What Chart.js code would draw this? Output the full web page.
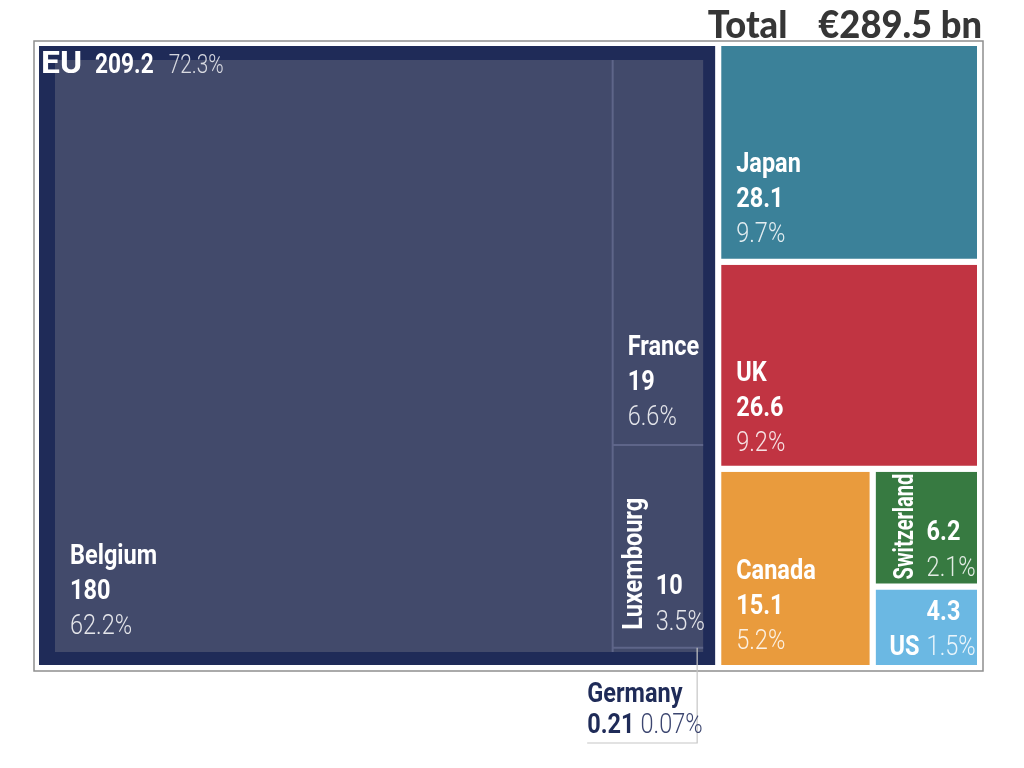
<!DOCTYPE html>
<html>
<head>
<meta charset="utf-8">
<script src="https://cdn.jsdelivr.net/npm/chart.js@4.4.1/dist/chart.umd.min.js"></script>
<style>
  html, body { margin: 0; background: #fff; }
  canvas { display: block; }
</style>
</head>
<body>
<canvas id="tradeMap" width="1024" height="768"></canvas>
<script>
(() => {
  'use strict'

  // € bn
  const total = 289.5
  const partners = ['EU', 'Japan', 'UK', 'Canada', 'Switzerland', 'US']
  const partnerValues = [209.2, 28.1, 26.6, 15.1, 6.2, 4.3]
  const euMembers = ['Belgium', 'France', 'Luxembourg', 'Germany']
  const euValues = [180, 19, 10, 0.21]

  const colours = {
    EU: '#1f2b58',
    Japan: '#3b8199',
    UK: '#c13442',
    Canada: '#e99b3d',
    Switzerland: '#377a41',
    US: '#6bb8e3',
    member: '#424a6b',
    divider: '#5e6589'
  }

  // plot units are close to pixels so the squarified layout keeps the right aspect
  const W = 944
  const H = 625
  const euPad = { left: 19, top: 17, right: 15, bottom: 16 }

  const sum = a => a.reduce((s, v) => s + v, 0)

  function worst (row, side) {
    const s = sum(row)
    return Math.max(side * side * Math.max(...row) / (s * s), s * s / (side * side * Math.min(...row)))
  }

  // squarified treemap, values sorted high to low
  function squarify (values, rect) {
    const k = rect.w * rect.h / sum(values)
    const areas = values.map(v => v * k)
    const out = []
    const r = { ...rect }
    let i = 0
    while (i < areas.length) {
      const side = Math.min(r.w, r.h)
      const row = [areas[i]]
      let j = i + 1
      while (j < areas.length && worst(row.concat(areas[j]), side) <= worst(row, side)) {
        row.push(areas[j])
        j++
      }
      const s = sum(row)
      if (r.w >= r.h) {
        const cw = s / r.h
        let y = r.y
        row.forEach(a => { out.push({ x0: r.x, y0: y, x1: r.x + cw, y1: y + a / cw }); y += a / cw })
        r.x += cw; r.w -= cw
      } else {
        const rh = s / r.w
        let x = r.x
        row.forEach(a => { out.push({ x0: x, y0: r.y, x1: x + a / rh, y1: r.y + rh }); x += a / rh })
        r.y += rh; r.h -= rh
      }
      i = j
    }
    return out
  }

  const topRects = squarify(partnerValues, { x: 0, y: 0, w: W, h: H })
  const eu = topRects[0]
  const inner = {
    x: eu.x0 + euPad.left,
    y: eu.y0 + euPad.top,
    w: eu.x1 - eu.x0 - euPad.left - euPad.right,
    h: eu.y1 - eu.y0 - euPad.top - euPad.bottom
  }
  const euRects = squarify(euValues, inner)

  const outline = r => [
    { x: r.x0, y: r.y0 }, { x: r.x1, y: r.y0 }, { x: r.x1, y: r.y1 },
    { x: r.x0, y: r.y1 }, { x: r.x0, y: r.y0 }
  ]

  const tile = (rect, fill, stroke, width) => ({
    data: outline(rect),
    fill: 'shape',
    backgroundColor: fill,
    borderColor: stroke,
    borderWidth: width,
    borderCapStyle: 'square',
    pointRadius: 0,
    pointHoverRadius: 0,
    tension: 0
  })

  // first dataset is painted last, so EU members go on top of the EU block
  const datasets = [
    ...euRects.map(r => tile(r, colours.member, colours.member, 0)),
    ...topRects.map((r, i) => tile(r, colours[partners[i]], '#ffffff', 6))
  ]

  const FONT = 'Roboto, "DejaVu Sans", sans-serif'

  function txt (ctx, s, x, y, o = {}) {
    const sx = o.sx || 0.84
    ctx.save()
    ctx.font = `${o.weight || 700} ${o.size || 28}px ${o.family || FONT}`
    ctx.fillStyle = o.color || '#ffffff'
    ctx.textAlign = o.align || 'left'
    ctx.textBaseline = 'alphabetic'
    ctx.translate(x, y)
    if (o.rotate) ctx.rotate(-Math.PI / 2)
    let k = sx
    const w = ctx.measureText(s).width
    if (o.fit && w * k > o.fit) k = o.fit / w
    ctx.scale(k, 1)
    ctx.fillText(s, 0, 0)
    ctx.restore()
    return w * k
  }

  const pct = v => {
    const p = v / total * 100
    return (p < 0.1 ? p.toFixed(2) : p.toFixed(1)) + '%'
  }
  const soft = 'rgba(255,255,255,0.86)'

  // label placement per tile
  const labelStyle = {
    Belgium: { mode: 'stack', inset: 0, pad: 18 },
    France: { mode: 'stack', inset: 0, pad: 20 },
    Japan: { mode: 'stack', inset: 3, pad: 17 },
    UK: { mode: 'stack', inset: 3, pad: 15 },
    Canada: { mode: 'stack', inset: 3, pad: 16 },
    Luxembourg: { mode: 'side', inset: 0, name: 29, col: 43, pad: 18, nameBottom: 18 },
    Switzerland: { mode: 'side', inset: 3, name: 37, col: 51, pad: 7, nameBottom: 4 },
    US: { mode: 'us', inset: 3, col: 51, pad: 10 }
  }

  const labels = {
    id: 'labels',
    afterDatasetsDraw (chart) {
      const { ctx, chartArea: area } = chart
      const xs = chart.scales.x
      const ys = chart.scales.y
      const box = (r, inset) => ({
        l: xs.getPixelForValue(r.x0) + inset,
        r: xs.getPixelForValue(r.x1) - inset,
        t: ys.getPixelForValue(r.y0) + inset,
        b: ys.getPixelForValue(r.y1) - inset
      })

      // dividers between EU members (shared edges only)
      const near = (a, b) => Math.abs(a - b) < 0.01
      ctx.save()
      ctx.strokeStyle = colours.divider
      ctx.lineWidth = 2
      ctx.beginPath()
      euRects.forEach(r => {
        const b = box(r, 0)
        if (!near(r.x1, inner.x + inner.w)) { ctx.moveTo(b.r, b.t); ctx.lineTo(b.r, b.b) }
        if (!near(r.y1, inner.y + inner.h)) { ctx.moveTo(b.l, b.b); ctx.lineTo(b.r, b.b) }
      })
      ctx.stroke()
      ctx.restore()

      // frame
      ctx.save()
      ctx.strokeStyle = '#8e8e8e'
      ctx.lineWidth = 1.5
      ctx.strokeRect(area.left - 2, area.top - 2, area.width + 5, area.height + 5)
      ctx.restore()

      // title
      const amount = '€' + total + ' bn'
      const tFont = { family: 'Lato, "Open Sans", sans-serif', size: 37, weight: 900, sx: 0.98, color: '#363636', align: 'right' }
      const aw = txt(ctx, amount, area.right + 2, 38, tFont)
      txt(ctx, 'Total', area.right + 2 - aw - 31, 38, tFont)

      // EU header
      const e = box(eu, 3)
      let x = e.l + 2
      x += txt(ctx, partners[0], x, e.t + 27, { size: 32, sx: 1.05 }) + 13
      x += txt(ctx, String(partnerValues[0]), x, e.t + 27, { size: 27, sx: 0.84 }) + 15
      txt(ctx, pct(partnerValues[0]), x, e.t + 27, { size: 26, weight: 300, sx: 0.8, color: 'rgba(255,255,255,0.8)' })

      const draw = (name, value, rect) => {
        const st = labelStyle[name]
        if (!st) return
        const b = box(rect, st.inset)
        if (st.mode === 'stack') {
          const lx = b.l + 15
          txt(ctx, name, lx, b.b - st.pad - 70)
          txt(ctx, String(value), lx, b.b - st.pad - 35)
          txt(ctx, pct(value), lx, b.b - st.pad, { weight: 300, color: soft })
        } else if (st.mode === 'side') {
          txt(ctx, name, b.l + st.name, b.b - st.nameBottom, { rotate: true, fit: b.b - b.t - 6 })
          txt(ctx, String(value), b.l + st.col, b.b - st.pad - 36)
          txt(ctx, pct(value), b.l + st.col, b.b - st.pad, { weight: 300, color: soft })
        } else if (st.mode === 'us') {
          txt(ctx, String(value), b.l + st.col, b.b - st.pad - 35)
          txt(ctx, name, b.l + 14, b.b - st.pad)
          txt(ctx, pct(value), b.l + st.col, b.b - st.pad, { weight: 300, color: soft })
        }
      }

      partners.forEach((n, i) => draw(n, partnerValues[i], topRects[i]))
      euMembers.forEach((n, i) => draw(n, euValues[i], euRects[i]))

      // Germany is too thin for a label: call it out below the frame
      const g = box(euRects[3], 0)
      const lineX = g.r - 6
      const lineY = area.bottom + 75
      ctx.save()
      ctx.strokeStyle = '#c6c6c6'
      ctx.lineWidth = 1.2
      ctx.beginPath()
      ctx.moveTo(lineX, g.t)
      ctx.lineTo(lineX, lineY)
      ctx.lineTo(lineX - 110, lineY)
      ctx.stroke()
      ctx.restore()
      const gx = lineX - 110
      txt(ctx, euMembers[3], gx, area.bottom + 34, { color: colours.EU })
      const vw = txt(ctx, String(euValues[3]), gx, area.bottom + 65, { color: colours.EU })
      txt(ctx, pct(euValues[3]), gx + vw + 6, area.bottom + 65, { weight: 300, color: '#3c4670' })
    }
  }

  // eslint-disable-next-line no-unused-vars
  const tradeMap = new Chart(document.getElementById('tradeMap'), {
    type: 'line',
    data: { datasets },
    options: {
      responsive: false,
      animation: false,
      events: [],
      layout: { padding: { left: 36, top: 43, right: 1024 - 36 - W, bottom: 768 - 43 - H } },
      scales: {
        x: { type: 'linear', min: 0, max: W, display: false },
        y: { type: 'linear', min: 0, max: H, reverse: true, display: false }
      },
      plugins: {
        legend: { display: false },
        tooltip: { enabled: false }
      }
    },
    plugins: [labels]
  })
})()
</script>
</body>
</html>
